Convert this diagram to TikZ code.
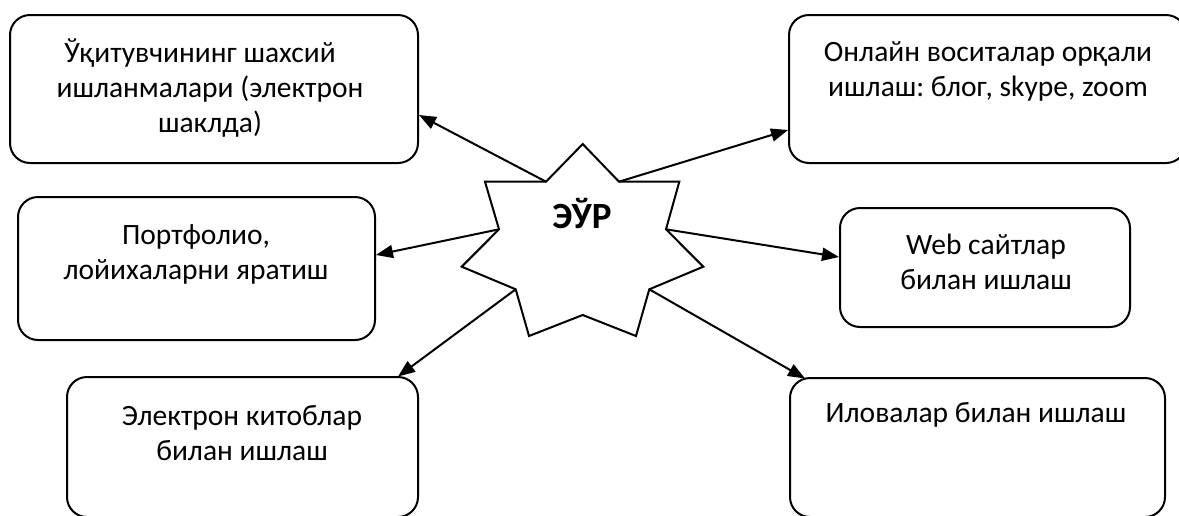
\documentclass[tikz,border=0pt]{standalone}
\usepackage{fontspec}
\setmainfont{Carlito}
\frenchspacing
\usetikzlibrary{arrows.meta}
\begin{document}
\begin{tikzpicture}[x=1pt,y=-1pt,
  box/.style={draw=black,line width=2pt,rounded corners=20pt,inner sep=0pt,fill=white},
  txt/.style={align=center,inner sep=0pt,font=\fontsize{29.5}{35}\selectfont},
  arr/.style={line width=2pt,-{Triangle[length=17pt,width=13pt]}},
  starline/.style={draw=black,line width=2pt,line join=miter,fill=white}]
\useasboundingbox (0,0) rectangle (1179,515);
\clip (0,0) rectangle (1179,515);
\fill[white] (0,0) rectangle (1179,515);
% boxes
\node[box,minimum width=408pt,minimum height=148pt] (b1) at (214,89) {};
\node[box,minimum width=397pt,minimum height=148pt] (b2) at (987.5,89) {};
\node[box,minimum width=357pt,minimum height=143pt] (b3) at (196.5,268.5) {};
\node[box,minimum width=351pt,minimum height=140pt] (b4) at (242.5,447) {};
\node[box,minimum width=290pt,minimum height=119pt] (b5) at (985,267.5) {};
\node[box,minimum width=375pt,minimum height=139pt] (b6) at (977.5,447.5) {};
% texts
\node[txt] (t1) at (210,88) {Ўқитувчининг шахсий\hspace*{20pt}\\ишланмалари (электрон\\шаклда)};
\node[txt] (t2) at (988,71) {Онлайн воситалар орқали\\ишлаш: блог, skype, zoom};
\node[txt] (t3) at (196,254) {Портфолио,\\лойихаларни яратиш};
\node[txt] (t4) at (242,433) {Электрон китоблар\\билан ишлаш};
\node[txt] (t5) at (986,262) {Web сайтлар\\билан ишлаш};
\node[txt] (t6) at (976,415) {Иловалар билан ишлаш};
% star vertices
\coordinate (s1) at (582.7,144);
\coordinate (s2) at (619,181.7);
\coordinate (s3) at (679.3,181.7);
\coordinate (s4) at (666,229.3);
\coordinate (s5) at (703.3,266.7);
\coordinate (s6) at (649.3,289.3);
\coordinate (s7) at (636,336);
\coordinate (s8) at (582.7,315);
\coordinate (s9) at (529,336);
\coordinate (s10) at (515.7,289.3);
\coordinate (s11) at (461.7,266.7);
\coordinate (s12) at (499,229.3);
\coordinate (s13) at (485,181.7);
\coordinate (s14) at (546,181.7);
\path[starline] (s1) -- (s2) -- (s3) -- (s4) -- (s5) -- (s6) -- (s7) -- (s8) -- (s9) -- (s10) -- (s11) -- (s12) -- (s13) -- (s14) -- cycle;
\node[inner sep=0pt,font=\fontsize{37}{40}\selectfont\bfseries] (c) at (582,213) {ЭЎР};
% arrow ends on box borders
\coordinate (e1) at (b1.east |- 0,115);
\coordinate (e2) at (b2.west |- 0,130);
\coordinate (e3) at (b3.east |- 0,255);
\coordinate (e4) at (398,376.5);
\coordinate (e5) at (b5.west |- 0,257);
\coordinate (e6) at (805,378.5);
\draw[arr] (s14) -- (e1);
\draw[arr] (s2) -- (e2);
\draw[arr] (s12) -- (e3);
\draw[arr] (s10) -- (e4);
\draw[arr] (s4) -- (e5);
\draw[arr] (s6) -- (e6);
\end{tikzpicture}
\end{document}
